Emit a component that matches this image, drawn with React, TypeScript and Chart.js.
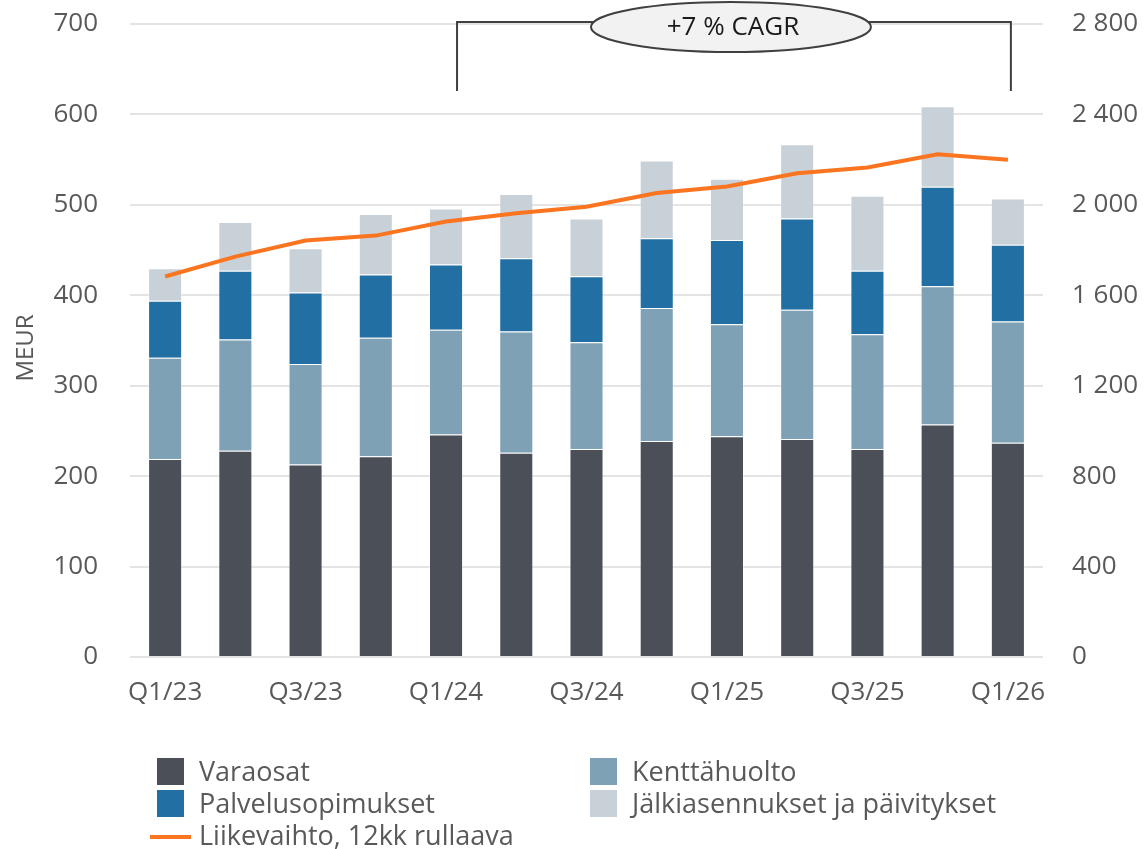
import React, { useEffect, useRef } from "react";
import { Chart, registerables } from "chart.js";

Chart.register(...registerables);

const categories = ["Q1/23", "Q2/23", "Q3/23", "Q4/23", "Q1/24", "Q2/24", "Q3/24", "Q4/24", "Q1/25", "Q2/25", "Q3/25", "Q4/25", "Q1/26"];
const varaosat = [219, 228, 213, 222, 246, 226, 230, 239, 244, 241, 230, 257, 237];
const kenttahuolto = [112, 123, 111, 131, 116, 134, 118, 147, 124, 143, 127, 153, 134];
const palvelusopimukset = [63, 76, 79, 70, 72, 81, 73, 77, 93, 101, 70, 110, 85];
const jalkiasennukset = [36, 54, 49, 67, 62, 71, 64, 86, 68, 82, 83, 89, 51];
const liikevaihto12kk = [1683, 1771, 1842, 1864, 1926, 1963, 1992, 2052, 2081, 2140, 2165, 2224, 2200];

const leftTicks = [0, 100, 200, 300, 400, 500, 600, 700];
const rightTicks = [0, 400, 800, 1200, 1600, 2000, 2400, 2800];
const cagrLabel = "+7 % CAGR";
const cagrFrom = 4;
const cagrTo = 12;

const C_DARK = "#4b4f57";
const C_FIELD = "#7fa1b5";
const C_CONTRACT = "#226fa3";
const C_UPGRADE = "#c9d1d8";
const C_LINE = "#fb7420";
const FONT = "'Open Sans', 'Noto Sans', sans-serif";
const TXT = "#595959";

const fmt = (v: number) => String(v).replace(/\B(?=(\d{3})+(?!\d))/g, " ");

export default function App() {
  const ref = useRef<HTMLCanvasElement | null>(null);

  useEffect(() => {
    const canvas = ref.current;
    if (!canvas) return;

    const extras = {
      id: "extras",
      afterDraw(chart: any) {
        const ctx = chart.ctx;
        const x = chart.scales.x;
        const area = chart.chartArea;
        ctx.save();
        ctx.translate(26, 348);
        ctx.rotate(-Math.PI / 2);
        ctx.fillStyle = TXT;
        ctx.font = `24px ${FONT}`;
        ctx.textAlign = "center";
        ctx.textBaseline = "middle";
        ctx.fillText("MEUR", 0, 0);
        ctx.restore();

        const xl = x.getPixelForValue(cagrFrom) + 11;
        const xr = x.getPixelForValue(cagrTo) + 3;
        const yt = area.top - 2;
        const yb = area.top + 67;
        ctx.save();
        ctx.strokeStyle = "#404040";
        ctx.lineWidth = 2;
        ctx.beginPath();
        ctx.moveTo(xl, yb);
        ctx.lineTo(xl, yt);
        ctx.lineTo(xr, yt);
        ctx.lineTo(xr, yb);
        ctx.stroke();
        const cx = (xl + xr) / 2 - 3;
        const cy = 27;
        ctx.beginPath();
        ctx.ellipse(cx, cy, 140, 25, 0, 0, Math.PI * 2);
        ctx.fillStyle = "#f2f2f2";
        ctx.fill();
        ctx.stroke();
        ctx.fillStyle = "#1a1a1a";
        ctx.font = `26px ${FONT}`;
        ctx.textAlign = "center";
        ctx.textBaseline = "middle";
        ctx.fillText(cagrLabel, cx + 2, cy + 1);
        ctx.restore();
      },
    };

    const barCommon = {
      type: "bar" as const,
      stack: "s",
      yAxisID: "y",
      order: 1,
      borderWidth: 1,
      borderColor: "rgba(255,255,255,0.35)",
      categoryPercentage: 1,
      barPercentage: 0.485,
    };

    const fitV = (w: number) => (s: any) => {
      s.width = w;
      s.paddingTop = 0;
      s.paddingBottom = 0;
    };

    const chart = new Chart(canvas, {
      type: "bar",
      data: {
        labels: categories,
        datasets: [
          { ...barCommon, label: "Varaosat", data: varaosat, backgroundColor: C_DARK },
          { ...barCommon, label: "Kenttähuolto", data: kenttahuolto, backgroundColor: C_FIELD },
          { ...barCommon, label: "Palvelusopimukset", data: palvelusopimukset, backgroundColor: C_CONTRACT },
          { ...barCommon, label: "Jälkiasennukset ja päivitykset", data: jalkiasennukset, backgroundColor: C_UPGRADE },
          {
            type: "line",
            label: "Liikevaihto, 12kk rullaava",
            data: liikevaihto12kk,
            yAxisID: "y1",
            order: 0,
            borderColor: C_LINE,
            backgroundColor: C_LINE,
            borderWidth: 4,
            pointRadius: 0,
            tension: 0,
          } as any,
        ],
      },
      options: {
        responsive: false,
        animation: false,
        layout: { padding: { top: 24, bottom: 132, left: 0, right: 0 } },
        plugins: { legend: { display: false }, tooltip: { enabled: false } },
        scales: {
          x: {
            stacked: true,
            grid: { display: false },
            border: { display: false },
            afterFit: (s: any) => { s.height = 60; },
            ticks: {
              autoSkip: false,
              maxRotation: 0,
              padding: 12,
              color: TXT,
              font: { family: FONT, size: 26 },
              callback: (_v: any, i: number) => (i % 2 === 0 ? categories[i] : ""),
            },
          },
          y: {
            position: "left",
            stacked: true,
            min: 0,
            max: 700,
            afterFit: fitV(130),
            afterBuildTicks: (s: any) => { s.ticks = leftTicks.map((v) => ({ value: v })); },
            grid: { color: "#e4e4e4", lineWidth: 2, drawTicks: false },
            border: { display: false },
            ticks: { padding: 32, color: TXT, font: { family: FONT, size: 26 } },
          },
          y1: {
            position: "right",
            min: 0,
            max: 2800,
            afterFit: fitV(102),
            afterBuildTicks: (s: any) => { s.ticks = rightTicks.map((v) => ({ value: v })); },
            grid: { drawOnChartArea: false, drawTicks: false },
            border: { display: false },
            ticks: {
              padding: 29,
              color: TXT,
              font: { family: FONT, size: 26 },
              callback: (v: any) => fmt(Number(v)),
            },
          },
        },
      } as any,
      plugins: [extras],
    });
    return () => chart.destroy();
  }, []);

  const legendText: React.CSSProperties = {
    position: "absolute",
    fontFamily: FONT,
    fontSize: 27,
    color: TXT,
    lineHeight: "32px",
    whiteSpace: "nowrap",
  };
  const sq = (left: number, top: number, color: string): React.CSSProperties => ({
    position: "absolute",
    left,
    top,
    width: 27,
    height: 27,
    background: color,
  });

  return (
    <div style={{ position: "absolute", left: 0, top: 0, width: 1145, height: 849, background: "#fff", overflow: "hidden" }}>
      <canvas ref={ref} width={1145} height={849} style={{ position: "absolute", left: 0, top: 0 }} />
      <div style={sq(157, 758, C_DARK)} />
      <div style={{ ...legendText, left: 199, top: 755 }}>Varaosat</div>
      <div style={sq(590, 758, C_FIELD)} />
      <div style={{ ...legendText, left: 632, top: 755 }}>Kenttähuolto</div>
      <div style={sq(157, 790, C_CONTRACT)} />
      <div style={{ ...legendText, left: 199, top: 787 }}>Palvelusopimukset</div>
      <div style={sq(590, 790, C_UPGRADE)} />
      <div style={{ ...legendText, left: 632, top: 787 }}>Jälkiasennukset ja päivitykset</div>
      <div style={{ position: "absolute", left: 150, top: 835, width: 41, height: 4, background: C_LINE }} />
      <div style={{ ...legendText, left: 199, top: 819 }}>Liikevaihto, 12kk rullaava</div>
    </div>
  );
}
